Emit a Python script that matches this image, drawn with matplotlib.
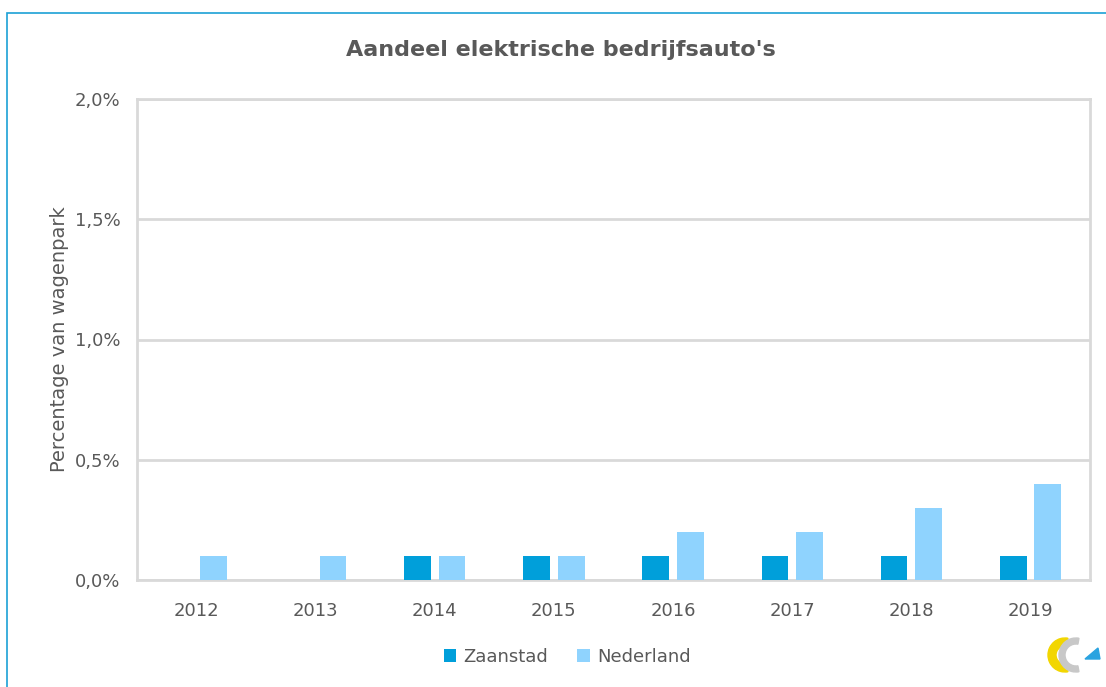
import matplotlib.pyplot as plt
import numpy as np
from matplotlib.patches import Rectangle, Wedge, Polygon

years = ["2012", "2013", "2014", "2015", "2016", "2017", "2018", "2019"]
zaanstad = [0.0, 0.0, 0.1, 0.1, 0.1, 0.1, 0.1, 0.1]
nederland = [0.1, 0.1, 0.1, 0.1, 0.2, 0.2, 0.3, 0.4]
yticks = [0.0, 0.5, 1.0, 1.5, 2.0]
ytick_labels = ["0,0%", "0,5%", "1,0%", "1,5%", "2,0%"]

TEXT = "#595959"
GRID = "#d9d9d9"

fig = plt.figure(figsize=(11.06, 6.87), dpi=100)
fig.patches.append(Rectangle((7 / 1106, -0.01), 1.1, 1 - 13 / 687 + 0.01,
                             transform=fig.transFigure, fill=False,
                             edgecolor="#1ba1d6", linewidth=1.2))

ax = fig.add_axes([137 / 1106, 1 - 580 / 687, (1090 - 137) / 1106, (580 - 99) / 687])
x = np.arange(len(years))
w = 0.225
ax.bar(x - 0.145, zaanstad, w, color="#009fda", label="Zaanstad", zorder=3)
ax.bar(x + 0.145, nederland, w, color="#8fd3fe", label="Nederland", zorder=3)

ax.set_xlim(-0.5, len(years) - 0.5)
ax.set_ylim(0, 2.0)
ax.set_yticks(yticks)
ax.set_yticklabels(ytick_labels)
ax.set_xticks(x)
ax.set_xticklabels(years)
ax.tick_params(length=0, labelsize=13, colors=TEXT)
ax.tick_params(axis="x", pad=16)
ax.tick_params(axis="y", pad=12)
ax.yaxis.grid(True, color=GRID, linewidth=2, zorder=0)
for s in ax.spines.values():
    s.set_color(GRID)
    s.set_linewidth(2)
ax.set_ylabel("Percentage van wagenpark", fontsize=14, color=TEXT, labelpad=4)

fig.text(561 / 1106, 1 - 50 / 687, "Aandeel elektrische bedrijfsauto's",
         ha="center", va="center", fontsize=16, fontweight="bold", color=TEXT)

fig.legend(loc="center", bbox_to_anchor=(567 / 1106, 1 - 657 / 687), ncol=2,
           frameon=False, fontsize=13, labelcolor=TEXT, handlelength=0.7,
           handleheight=0.7, handletextpad=0.4, columnspacing=1.6)

# small logo bottom right
lax = fig.add_axes([1045 / 1106, 1 - 675 / 687, 56 / 1106, 40 / 687])
lax.set_xlim(0, 56)
lax.set_ylim(0, 40)
lax.axis("off")
lax.add_patch(Wedge((20, 20), 17, 80, 280, width=8, color="#f2d600"))
lax.add_patch(Wedge((31, 20), 17, 80, 280, width=6, color="#c8c8c8"))
lax.add_patch(Polygon([[40, 16], [55, 16], [53, 27]], color="#2aa3e0"))

fig.savefig("out.png", dpi=100)
